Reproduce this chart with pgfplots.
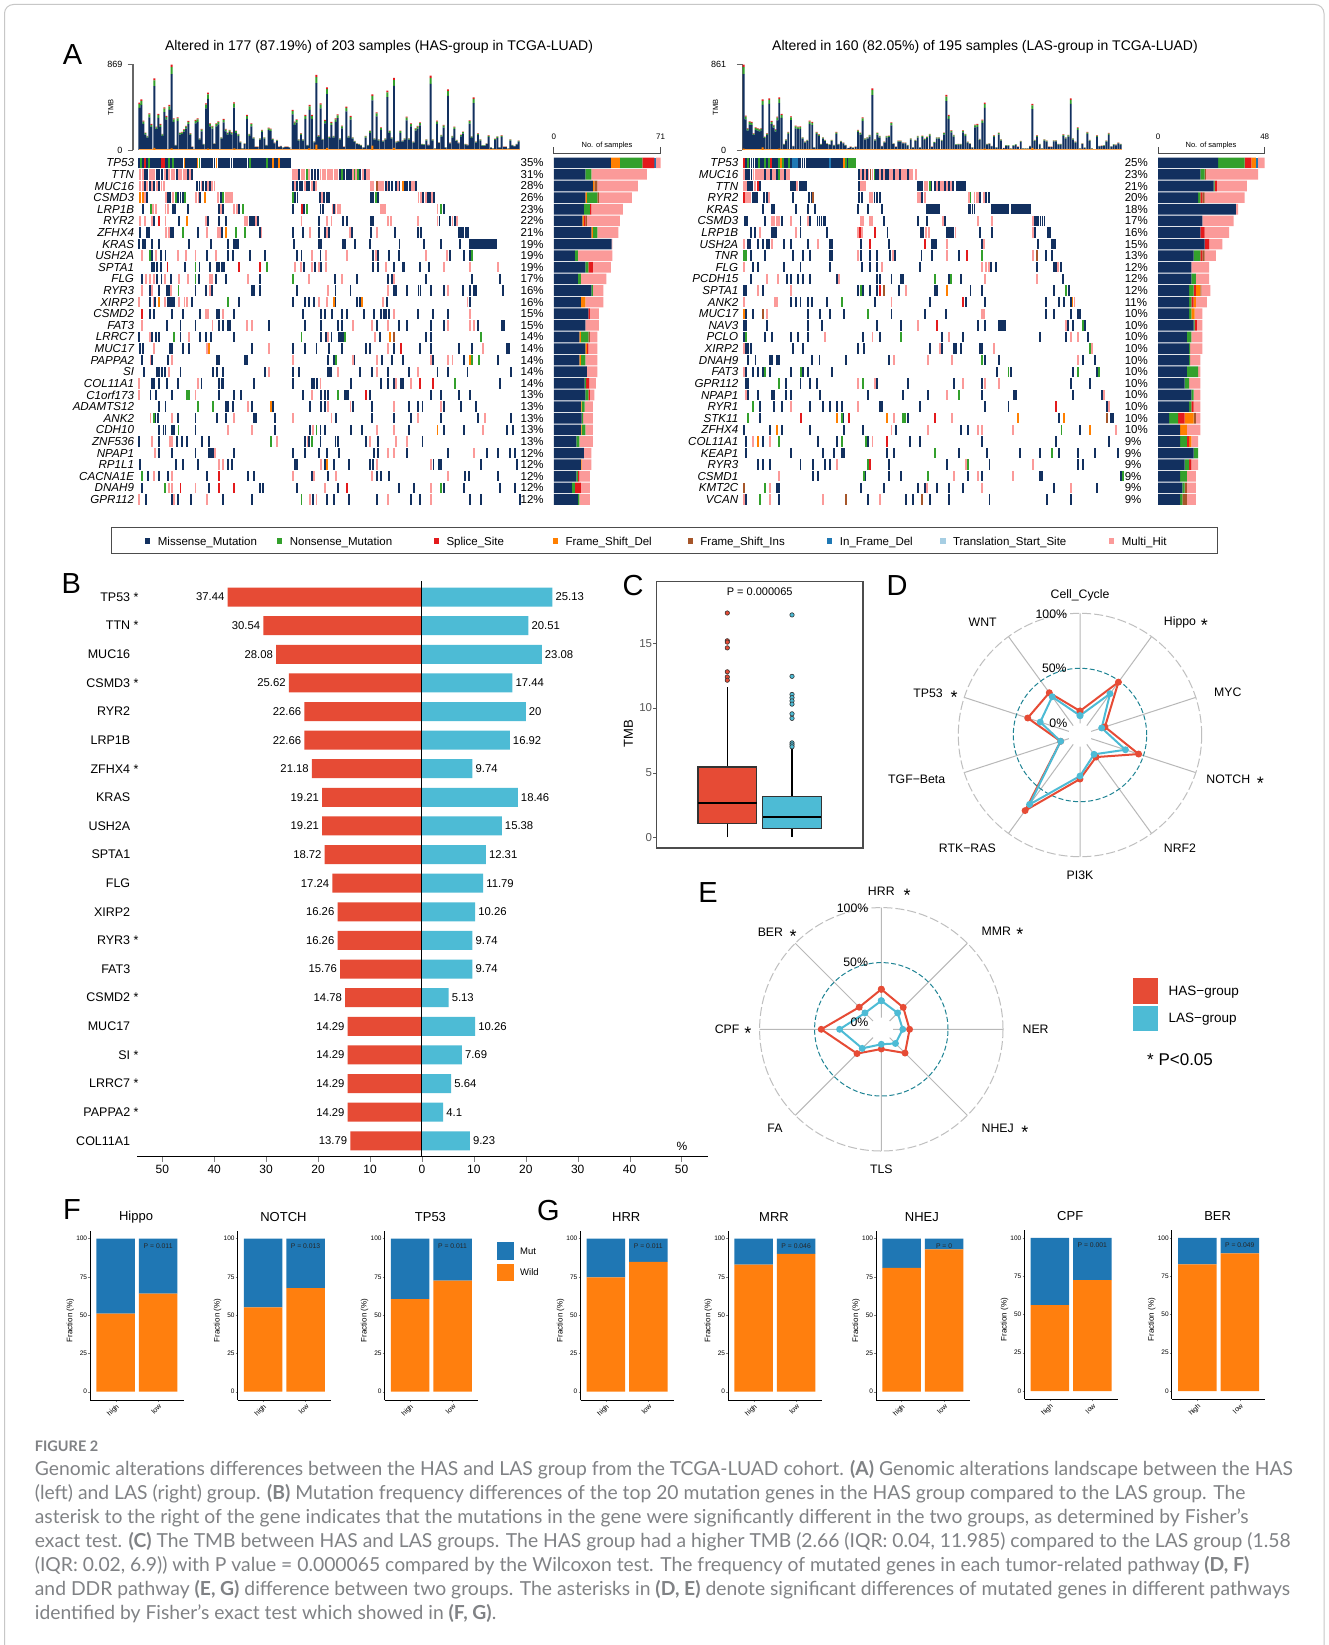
\documentclass[border=0pt]{standalone}
\usepackage{fontspec}
\usepackage{pgfplots}
\usepackage{pgfplotstable}
\pgfplotsset{compat=1.18}
\usepgfplotslibrary{polar,statistics}
\setmainfont{Liberation Sans}
\newfontfamily\capfont{Lato}
\newcommand{\fs}[1]{\fontsize{#1}{#1}\selectfont}
\definecolor{nv}{HTML}{12305F}
\definecolor{gn}{HTML}{33A02C}
\definecolor{rd}{HTML}{E31A1C}
\definecolor{og}{HTML}{FF7F00}
\definecolor{br}{HTML}{A6562A}
\definecolor{bl}{HTML}{1F78B4}
\definecolor{lb}{HTML}{A6CEE3}
\definecolor{pk}{HTML}{FB9A99}
\definecolor{has}{HTML}{E64B35}
\definecolor{las}{HTML}{4DBBD5}
\definecolor{mut}{HTML}{1F77B4}
\definecolor{wild}{HTML}{FF7F0E}
\definecolor{tl}{HTML}{1F8494}
\definecolor{cap}{HTML}{808285}
\pgfplotsset{/pgf/number format/assume math mode=true}
\pgfdeclareplotmark{cella}{\pgfpathrectangle{\pgfpoint{-0.95pt}{-5.2pt}}{\pgfpoint{1.9pt}{10.4pt}}\pgfusepathqfill}
\pgfplotsset{onco/.style={width=381.9pt,height=348.3pt,scale only axis,ymin=-0.5,ymax=29.5,y dir=reverse,
  axis x line=none,axis y line=left,y axis line style={draw=none},ytick={0,...,29},ytick style={draw=none},clip=false,
  major tick length=0pt,yticklabel style={font=\fs{11.6}\itshape,inner sep=0pt,xshift=-4.4pt}},
 ocell/.style={only marks,mark=cella,color=#1},
 sideb/.style={scale only axis,height=348.3pt,ymin=-0.5,ymax=29.5,y dir=reverse,xbar stacked,bar width=10.6pt,
  axis x line=none,axis y line=left,y axis line style={draw=none},ytick={0,...,29},ytick style={draw=none},xmin=0,clip=false,
  major tick length=0pt,yticklabel style={font=\fs{11.5},inner sep=0pt,text width=24pt,align=left,anchor=east,xshift=-9pt}},
 tmb/.style={scale only axis,height=85.7pt,ymin=0,ymax=257,ybar stacked,axis x line=none,axis y line=left,
  y axis line style={-,draw=black!60,line width=1.2pt},ytick={0,257},tick align=outside,major tick length=5.5pt,
  tick style={draw=black!60,line width=0.8pt},yticklabel style={font=\fs{9},inner sep=0pt},
  ylabel style={font=\fs{7.5}},clip=false},
 sg/.style={draw=none,bar width=1.85pt},
 polar/.style={scale only axis,width=243.4pt,height=243.4pt,anchor=center,ymin=0,ymax=110.6,ytick=\empty,xticklabels={},
  xmajorgrids,major x grid style={black!28,line width=1pt},
  x axis line style={draw=none},y axis line style={draw=none},tick style={draw=none},clip=false,
  major tick length=0pt},
 rline/.style={color=#1,line width=2pt,mark=*,mark size=2.4pt,mark options={fill=#1,draw=#1}}}

\pgfplotstableread{
x h
28 142
34 152
40 88
46 52
52 42
58 110
64 78
73 215
79 70
85 108
91 78
97 48
103 128
109 102
118 135
125 256
131 95
137 15
143 98
150 52
156 54
162 62
168 72
175 87
181 50
187 10
197 90
203 95
209 35
215 63
221 18
228 140
234 172
240 80
247 72
253 20
259 80
265 86
274 38
281 93
287 63
293 52
299 60
305 53
312 143
318 58
325 48
331 25
337 5
344 20
351 105
358 48
364 80
371 38
377 10
383 10
390 35
396 60
403 38
409 15
416 67
422 64
428 34
434 22
441 30
447 10
453 12
460 8
466 10
473 10
478 8
488 120
494 85
500 92
506 32
513 50
519 32
526 105
532 15
539 135
546 105
553 26
559 225
566 44
572 140
578 33
585 90
591 188
598 40
604 84
611 42
617 95
623 107
630 35
636 73
642 10
649 130
656 42
662 102
668 38
674 27
681 20
687 18
693 15
700 8
707 42
714 15
720 58
727 167
733 35
740 113
746 32
753 68
759 28
766 35
772 178
779 58
785 38
792 216
799 25
805 27
811 58
818 28
824 35
830 100
837 35
843 80
850 25
857 65
863 72
870 83
876 18
882 17
889 32
895 16
902 223
908 32
915 5
921 88
927 23
934 45
941 75
947 8
954 182
960 22
967 42
973 70
980 30
986 22
993 46
999 55
1006 18
1012 16
1019 89
1025 41
1031 158
1038 25
1044 50
1051 32
1057 14
1064 14
1070 20
1076 44
1083 8
1089 5
1095 34
1102 41
1108 8
1115 44
1122 10
1128 10
1135 5
1141 32
1147 15
1154 12
1160 18
1166 28
}\tmbhas
\pgfplotstableread{
x h
26 256
32 103
38 65
44 86
50 84
56 50
62 68
68 65
74 63
79 65
83 152
89 40
96 50
103 155
110 87
116 75
122 62
127 100
133 158
140 108
147 18
153 32
160 54
168 101
175 12
182 73
189 70
196 71
203 38
210 25
217 30
224 88
232 84
238 8
245 54
252 47
258 18
264 38
270 30
276 20
283 17
290 30
297 15
304 54
311 18
318 27
325 22
332 15
340 6
347 10
354 7
362 10
369 60
376 52
383 98
390 35
397 38
404 45
412 185
420 32
427 52
434 42
441 12
448 25
455 42
462 43
469 83
476 20
483 10
490 28
497 28
504 22
511 22
518 15
527 35
534 8
541 30
548 42
555 8
562 43
569 34
576 40
584 48
591 10
598 24
605 38
612 38
620 30
627 52
634 165
641 105
649 59
656 45
663 17
670 18
677 18
684 59
691 48
698 25
705 20
712 8
720 76
727 78
734 33
742 91
749 142
756 18
763 20
770 12
777 44
784 8
791 52
798 32
806 6
813 14
820 14
827 5
835 14
842 17
849 10
857 27
864 5
871 5
878 5
885 12
892 138
899 30
906 44
914 18
921 5
928 32
935 28
942 10
949 10
956 29
963 29
970 18
977 18
985 47
992 38
1000 45
1007 155
1014 35
1021 25
1028 68
1035 5
1042 20
1049 7
1057 54
1064 30
1071 5
1078 2
1086 44
1093 12
1100 13
1107 14
1114 28
1121 51
1129 11
1136 17
1143 16
1150 22
1157 18
}\tmblas
\pgfplotstableread{
r mis fsd non spl fsi ifd mul
0 38 6 15 8 0 1 3
1 21 0 4 0 0 0 37
2 26 1 0 0 2 0 27
3 21 1 7 0 1 0 22
4 20 0 4 1 0 0 21
5 19 1 0 1 1 0 22
6 25 1 3 0 0 0 14
7 38.5 0 0 0 0 0 .5
8 14 0 2 0 0 0 23
9 21 0 2 3 0 0 12
10 16 0 2 0 0 0 17
11 25 0 1 0 0 0 7
12 18 3 0 0 0 0 12
13 23 0 0 1 0 0 6
14 21 0 0 0 0 0 9
15 17 1 5 0 1 0 5
16 21 1 0 1 0 0 6
17 17 1 3 0 0 0 8
18 22 0 0 0 0 0 7
19 20.5 0 1 2 0 0 4.5
20 21 0 2 1 0 0 3
21 18 .5 2 0 0 0 5.5
22 18.5 0 1 0 0 0 6.5
23 18 .5 2.5 0 0 0 5
24 15 0 2 0 0 0 9
25 20 0 0 0 0 0 5
26 18 .5 0 0 0 0 6.5
27 15 0 1 1 0 0 7
28 12 0 2 4 0 0 6
29 16 0 1 0 0 0 7
}\barhas
\pgfplotstableread{
r mis non spl fsd fsi ifd mul
0 27 12 3 2 0 1 3
1 19 2 0 0 .5 0 23.5
2 25 .5 1 0 0 0 13.5
3 18 1 1 0 1 0 18
4 35 0 0 0 0 0 1
5 20 0 0 0 0 0 14
6 19 0 2 0 0 0 11
7 21 0 2 0 0 0 6
8 16 3 1 0 1 0 5
9 15 0 0 0 0 0 8
10 15 2 0 0 0 0 6
11 14 2 1 2 .5 0 4
12 14 1 1 1 0 0 5
13 14 1 0 1.5 0 0 3.5
14 16 .5 1 0 0 0 2.5
15 13 2 0 0 0 0 5
16 14 .5 0 0 0 0 5.5
17 14 .5 0 0 0 0 4.5
18 13 5 0 0 0 0 1
19 12 2 0 0 0 0 5
20 15 1 0 0 0 0 3
21 14 1 1 0 0 0 3
22 5 4 3 4 1 0 2
23 10 0 0 3 0 0 6
24 10 3 1 1 0 0 3
25 16 2 0 0 0 0 0
26 12 2 1 0 0 0 3
27 10 3 0 0 0 0 4
28 11 1 0 0 1 0 4
29 10 1 0 0 2 0 4
}\barlas

\newcommand{\fgpanel}[8]{%
\begin{axis}[at={(#1pt,-#2pt)},anchor=north west,width=93.3pt,height=169.3pt,scale only axis,ybar stacked,bar width=38.5pt,
 xmin=0.402,xmax=2.6,ymin=-5.4,ymax=105.1,axis x line=bottom,axis y line=left,axis line style={-,line width=1pt},
 xtick={1,2},xticklabels={high,low},ytick={0,25,50,75,100},tick align=outside,major tick length=2pt,
 xticklabel style={font=\fs{7},rotate=45,anchor=north east,inner sep=1pt},yticklabel style={font=\fs{6.5},inner sep=1pt},
 ylabel={Fraction (\%)},y label style={font=\fs{8},at={(axis description cs:-0.215,0.47)},anchor=center},
 title={#3},title style={font=\fs{13},at={(axis description cs:0.49,1.045)},anchor=center},
 after end axis/.code={\node[font=\fs{6.8},text=black!85,inner sep=0pt] at (axis cs:2,95) {P = #4};}]
\addplot[fill=wild,draw=none] coordinates {(1,#5) (2,#6)};
\addplot[fill=mut,draw=none] coordinates {(1,#7) (2,#8)};
\end{axis}}
\newcommand{\st}[2]{\node[font=\fs{18},inner sep=0pt] at (#1,#2+3.5) {*};}

\begin{document}
\begin{tikzpicture}[x=1pt,y=-1pt]
\useasboundingbox (0,0) rectangle (1328,1645);
\fill[white] (0,0) rectangle (1328,1645);
\draw[black!22,line width=1pt,rounded corners=9pt] (4.5,1645)--(4.5,4.5)--(1324,4.5)--(1324,1645);
% ---------- letters
\foreach \t/\a/\b in {A/72.5/55,B/71.3/584,C/633/586,D/897/586,E/708/893,F/72/1210,G/548.4/1211}
  \node[font=\fs{29},inner sep=0pt] at (\a,\b) {\t};
% ---------- panel A titles
\node[font=\fs{14},inner sep=0pt] at (379,46.5) {Altered in 177 (87.19\%) of 203 samples (HAS-group in TCGA-LUAD)};
\node[font=\fs{14},inner sep=0pt] at (985,46.5) {Altered in 160 (82.05\%) of 195 samples (LAS-group in TCGA-LUAD)};
% ---------- TMB HAS
\begin{axis}[tmb,at={(133pt,-64.3pt)},anchor=north west,width=387.5pt,xmin=9,xmax=1171.5,yticklabels={0,869},ylabel={TMB},
 yticklabel style={xshift=-5pt},y label style={at={(axis description cs:-0.057,0.5)},anchor=center}]
\addplot[fill=nv,sg] table[x=x,y expr=\thisrow{h}*0.89]{\tmbhas};
\addplot[fill=gn,sg] table[x=x,y expr=\thisrow{h}*0.08]{\tmbhas};
\addplot[fill=rd,sg] table[x=x,y expr=\thisrow{h}*0.03]{\tmbhas};
\end{axis}
\begin{axis}[at={(133pt,-64.3pt)},anchor=north west,scale only axis,width=387.5pt,height=85.7pt,xmin=9,xmax=1171.5,ymin=0,ymax=257,hide axis,clip=false]
\addplot[og!70,line width=0.5pt] coordinates {(25.8,0.8) (1171,0.8)};
\addplot[ybar,fill=og,draw=none,bar width=1.85pt,bar shift=0pt] coordinates {(73,6) (125,5) (234,4) (313,5) (537,5) (559,16) (591,6) (727,13) (792,6)};
\end{axis}
% ---------- TMB LAS
\begin{axis}[tmb,at={(742.3pt,-64.3pt)},anchor=north west,width=382.4pt,xmin=22,xmax=1169,yticklabels={0,861},ylabel={TMB},
 yticklabel style={xshift=-10.5pt},y label style={at={(axis description cs:-0.07,0.5)},anchor=center}]
\addplot[fill=nv,sg] table[x=x,y expr=\thisrow{h}*0.89]{\tmblas};
\addplot[fill=gn,sg] table[x=x,y expr=\thisrow{h}*0.08]{\tmblas};
\addplot[fill=rd,sg] table[x=x,y expr=\thisrow{h}*0.03]{\tmblas};
\end{axis}
\begin{axis}[at={(742.3pt,-64.3pt)},anchor=north west,scale only axis,width=382.4pt,height=85.7pt,xmin=22,xmax=1169,ymin=0,ymax=257,hide axis,clip=false]
\addplot[og!70,line width=0.5pt] coordinates {(24,0.8) (1160,0.8)};
\addplot[ybar,fill=og,draw=none,bar width=1.85pt,bar shift=0pt] coordinates {(26,4) (83,8) (133,4) (749,4) (892,6)};
\end{axis}
% ---------- oncoplot HAS
\begin{axis}[onco,at={(138.6pt,-157pt)},anchor=north west,xmin=224,xmax=1190,
 yticklabels={TP53,TTN,MUC16,CSMD3,LRP1B,RYR2,ZFHX4,KRAS,USH2A,SPTA1,FLG,RYR3,XIRP2,CSMD2,FAT3,LRRC7,MUC17,PAPPA2,SI,COL11A1,C1orf173,ADAMTS12,ANK2,CDH10,ZNF536,NPAP1,RP1L1,CACNA1E,DNAH9,GPR112}]
\addplot[ocell=pk] coordinates {
(228,1)(234,1)(252,1)(258,1)(264,1)(290,1)(302,1)(308,1)(314,1)(326,1)(332,1)(338,1)(344,1)(355,1)(615,1)(620,1)(625,1)(637,1)(643,1)(656,1)(684,1)(690,1)(696,1)(702,1)(708,1)(714,1)(720,1)(726,1)(767,1)(773,1)(791,1)(802,1)(807,1)
(228,2)(234,2)(246,2)(259,2)(270,2)(282,2)(288,2)(383,2)(399,2)(410,2)(416,2)(620,2)(644,2)(662,2)(673,2)(812,2)(818,2)(832,2)(836,2)(842,2)(854,2)(880,2)(915,2)(920,2)
(240,3)(294,3)(312,3)(370,3)(376,3)(425,3)(444,3)(450,3)(455,3)(461,3)(688,3)(932,3)(938,3)(950,3)(967,3)
(261,4)(267,4)(292,4)(298,4)(432,4)(465,4)(472,4)(716,4)(722,4)(728,4)(734,4)(836,4)(842,4)(848,4)(980,4)
(228,5)(240,5)(258,5)(292,5)(395,5)(493,5)(499,5)(522,5)(636,5)(700,5)(712,5)(855,5)(862,5)(930,5)(980,5)(1018,5)(1030,5)
(294,6)(300,6)(396,6)(424,6)(430,6)(534,6)(658,6)(700,6)(758,6)(826,6)
(232,8)(268,8)(324,8)(344,8)(368,8)(420,8)(662,8)(698,8)(750,8)(824,8)(952,8)(1005,8)
(620,9)(634,9)(662,9)(680,9)(698,9)(850,9)(996,9)(1062,9)(1132,9)
(242,10)(252,10)(262,10)(290,10)(326,10)(350,10)(404,10)(410,10)(500,10)(656,10)(738,10)(870,10)
(232,11)(258,11)(307,11)(404,11)(702,11)(854,11)(1006,11)
(225,12)(262,12)(290,12)(326,12)(340,12)(346,12)(680,12)(700,12)(842,12)(1056,12)
(394,13)(400,13)(438,13)(870,13)(1062,13)
(232,14)(411,14)(499,14)(510,14)(767,14)(815,14)(854,14)(1006,14)(1062,14)(1072,14)
(252,15)(351,15)(704,15)(822,15)
(264,16)(396,16)(553,16)(854,16)(1095,16)
(254,17)(308,17)(614,17)(766,17)(826,17)(964,17)(1006,17)(1018,17)
(302,18)(553,18)(728,18)(826,18)(930,18)
(226,19)(374,19)(684,19)(876,19)(914,19)
(226,20)(368,20)(662,20)
(500,21)(702,21)(760,21)(870,21)(990,21)
(254,22)(308,22)(466,22)(614,22)(712,22)(930,22)(1100,22)
(450,23)(510,23)(664,23)(826,23)(870,23)(1096,23)
(258,24)(304,24)(309,24)(575,24)(652,24)(810,24)(874,24)(904,24)
(265,25)(418,25)(854,25)(870,25)(1072,25)
(428,26)(438,26)(686,26)(826,26)(964,26)
(264,27)(308,27)(614,27)(668,27)(724,27)(815,27)(1006,27)
(302,28)(308,28)(368,28)(696,28)(964,28)
(226,29)(313,29)(396,29)(658,29)(674,29)(854,29)(964,29)};
\addplot[ocell=nv] coordinates {
(226,0)(236,0)(245,0)(255,0)(259,0)(264,0)(269,0)(274,0)(278,0)(293,0)(297,0)(307,0)(316,0)(321,0)(326,0)(331,0)(335,0)(345,0)(350,0)(354,0)(359,0)(364,0)(369,0)(383,0)(388,0)(392,0)(397,0)(402,0)(407,0)(411,0)(416,0)(426,0)(430,0)(435,0)(440,0)(445,0)(449,0)(454,0)(459,0)(464,0)(468,0)(473,0)(478,0)(483,0)(487,0)(492,0)(497,0)(502,0)(511,0)(516,0)(521,0)(525,0)(530,0)(535,0)(540,0)(544,0)(554,0)(559,0)(568,0)(573,0)(582,0)(587,0)(592,0)(597,0)(601,0)(606,0)
(240,1)(246,1)(270,1)(275,1)(283,1)(296,1)(320,1)(350,1)(360,1)(630,1)(662,1)(670,1)(677,1)(733,1)(744,1)(750,1)(756,1)(762,1)(785,1)(796,1)
(240,2)(253,2)(264,2)(276,2)(372,2)(378,2)(388,2)(394,2)(404,2)(615,2)(625,2)(632,2)(638,2)(650,2)(656,2)(668,2)(850,2)(858,2)(866,2)(874,2)(884,2)(898,2)(904,2)(910,2)(925,2)
(246,3)(298,3)(304,3)(324,3)(330,3)(336,3)(380,3)(432,3)(620,3)(626,3)(682,3)(694,3)(700,3)(706,3)(812,3)(818,3)(830,3)(944,3)(955,3)(962,3)(972,3)
(236,4)(310,4)(316,4)(350,4)(427,4)(438,4)(478,4)(614,4)(643,4)(684,4)(690,4)(718,4)(997,4)
(264,5)(327,5)(400,5)(428,5)(445,5)(505,5)(511,5)(516,5)(527,5)(680,5)(742,5)(750,5)(812,5)(818,5)(985,5)(1012,5)(1025,5)
(228,6)(246,6)(250,6)(306,6)(312,6)(374,6)(436,6)(530,6)(614,6)(640,6)(680,6)(696,6)(706,6)(764,6)(812,6)(873,6)(930,6)(938,6)(1035,6)(1040,6)(1045,6)(1052,6)(1057,6)
(226,7)(236,7)(240,7)(258,7)(275,7)(352,7)(406,7)(450,7)(465,7)(470,7)(476,7)(618,7)(680,7)(685,7)(740,7)(745,7)(772,7)(810,7)(884,7)(946,7)(990,7)(1036,7)(1062,7)(1067,7)(1072,7)(1077,7)(1082,7)(1087,7)(1092,7)(1097,7)(1102,7)(1107,7)(1112,7)(1117,7)(1122,7)(1128,7)
(258,8)(280,8)(292,8)(398,8)(450,8)(462,8)(506,8)(543,8)(624,8)(636,8)(684,8)(818,8)(830,8)(858,8)(882,8)(1011,8)(1047,8)(1062,8)
(258,9)(264,9)(270,9)(280,9)(341,9)(378,9)(404,9)(422,9)(428,9)(434,9)(440,9)(642,9)(670,9)(686,9)(816,9)(830,9)(870,9)(892,9)(896,9)(936,9)(958,9)
(232,10)(270,10)(282,10)(305,10)(376,10)(420,10)(445,10)(532,10)(720,10)(777,10)(855,10)(865,10)(952,10)(1067,10)(1139,10)
(252,11)(275,11)(296,11)(302,11)(368,11)(395,11)(410,11)(510,11)(516,11)(532,11)(624,11)(722,11)(760,11)(870,11)(876,11)(903,11)(932,11)(937,11)(964,11)(996,11)(1045,11)(1063,11)(1072,11)(1077,11)(1145,11)
(252,12)(266,12)(298,12)(303,12)(309,12)(314,12)(358,12)(477,12)(614,12)(645,12)(656,12)(668,12)(722,12)(777,12)(783,12)(852,12)(1062,12)
(252,13)(264,13)(308,13)(336,13)(379,13)(422,13)(428,13)(465,13)(640,13)(685,13)(696,13)(714,13)(738,13)(750,13)(795,13)(820,13)(838,13)(844,13)(850,13)(858,13)(930,13)(968,13)(1007,13)
(296,14)(330,14)(368,14)(428,14)(438,14)(450,14)(456,14)(553,14)(646,14)(685,14)(728,14)(738,14)(828,14)(882,14)(903,14)(963,14)(996,14)(1082,14)(1143,14)(1148,14)
(226,15)(258,15)(268,15)(275,15)(330,15)(380,15)(395,15)(406,15)(466,15)(686,15)(698,15)(712,15)(730,15)(735,15)(740,15)(835,15)(952,15)(963,15)
(228,16)(234,16)(303,16)(308,16)(336,16)(352,16)(510,16)(614,16)(646,16)(674,16)(706,16)(738,16)(800,16)(810,16)(870,16)(935,16)(964,16)(1034,16)(1067,16)(1155,16)(1160,16)
(232,17)(258,17)(298,17)(422,17)(428,17)(494,17)(499,17)(702,17)(718,17)(770,17)(840,17)(864,17)(892,17)(968,17)(1046,17)(1133,17)
(237,18)(270,18)(276,18)(284,18)(290,18)(330,18)(412,18)(422,18)(438,18)(543,18)(614,18)(630,18)(702,18)(708,18)(712,18)(784,18)(815,18)(854,18)(908,18)(980,18)(1007,18)(1056,18)(1165,18)
(258,19)(264,19)(275,19)(296,19)(324,19)(383,19)(428,19)(434,19)(438,19)(516,19)(614,19)(662,19)(668,19)(676,19)(762,19)(838,19)(854,19)(870,19)(888,19)(892,19)(1138,19)
(254,20)(269,20)(308,20)(428,20)(466,20)(482,20)(640,20)(686,20)(696,20)(702,20)(745,20)(750,20)(755,20)(810,20)(964,20)(990,20)(1034,20)(1062,20)
(275,21)(292,21)(446,21)(450,21)(462,21)(510,21)(564,21)(658,21)(686,21)(696,21)(766,21)(815,21)(908,21)(930,21)(942,21)(996,21)(1040,21)(1078,21)
(266,22)(272,22)(324,22)(368,22)(422,22)(446,22)(516,22)(521,22)(570,22)(724,22)(815,22)(870,22)(914,22)(990,22)(1082,22)(1165,22)
(275,23)(287,23)(292,23)(308,23)(314,23)(368,23)(570,23)(658,23)(684,23)(696,23)(762,23)(788,23)(908,23)(996,23)(1046,23)(1155,23)(1170,23)
(226,24)(275,24)(320,24)(334,24)(346,24)(384,24)(402,24)(646,24)(656,24)(684,24)(722,24)(728,24)(800,24)(830,24)(942,24)
(275,25)(308,25)(368,25)(402,25)(408,25)(412,25)(466,25)(614,25)(646,25)(680,25)(700,25)(730,25)(820,25)(830,25)(903,25)(1007,25)(1106,25)(1133,25)(1164,25)(1175,25)
(228,26)(318,26)(336,26)(374,26)(450,26)(460,26)(620,26)(625,26)(696,26)(718,26)(756,26)(810,26)(816,26)(970,26)(984,26)(990,26)(1090,26)(1182,26)
(248,27)(276,27)(298,27)(396,27)(500,27)(515,27)(662,27)(702,27)(826,27)(838,27)(858,27)(1050,27)(1060,27)(1133,27)
(232,28)(402,28)(532,28)(538,28)(624,28)(728,28)(882,28)(920,28)(996,28)(1046,28)(1139,28)(1176,28)
(242,29)(308,29)(324,29)(357,29)(438,29)(510,29)(664,29)(700,29)(718,29)(756,29)(826,29)(914,29)(936,29)(1062,29)(1090,29)(1188,29)};
\addplot[ocell=gn] coordinates {
(231,0)(250,0)(302,0)(312,0)(378,0)(506,0)(549,0)(651,1)(738,1)(770,1)(778,1)(318,3)(342,3)(438,3)(614,3)(824,3)(256,4)(487,4)(649,4)(990,4)(336,6)(470,6)(494,6)(252,8)(1067,8)(368,9)(548,9)(368,10)(614,10)(325,11)(450,12)(314,15)(636,15)(746,15)(1090,15)(723,17)(1067,17)(1084,17)(1024,19)(346,20)(351,20)(728,20)(374,21)(412,21)(262,22)(325,23)(674,23)(558,24)(662,24)(232,27)(291,28)(990,28)(636,29)};
\addplot[ocell=rd] coordinates {
(240,0)(283,0)(288,0)(637,4)(276,5)(478,9)(532,9)(297,9)(232,13)(887,16)(936,19)(968,19)(800,20)(428,27)(330,28)(428,28)(466,28)(750,28)};
\addplot[ocell=og] coordinates {
(340,0)(373,0)(421,0)(563,0)(578,0)(228,3)(234,3)(392,3)(347,5)(445,6)(275,12)(718,12)(789,12)(859,15)(401,16)(1062,17)(558,21)(980,23)(701,26)(892,2)};
\addplot[ocell=br] coordinates {(827,2)(870,15)};
\end{axis}
% ---------- oncoplot LAS
\begin{axis}[onco,at={(742.8pt,-157pt)},anchor=north west,xmin=184,xmax=1150,
 yticklabels={TP53,MUC16,TTN,RYR2,KRAS,CSMD3,LRP1B,USH2A,TNR,FLG,PCDH15,SPTA1,ANK2,MUC17,NAV3,PCLO,XIRP2,DNAH9,FAT3,GPR112,NPAP1,RYR1,STK11,ZFHX4,COL11A1,KEAP1,RYR3,CSMD1,KMT2C,VCAN}]
\addplot[ocell=pk] coordinates {
(186,1)(211,1)(216,1)(221,1)(226,1)(231,1)(236,1)(246,1)(251,1)(260,1)(265,1)(280,1)(285,1)(295,1)(300,1)(482,1)(492,1)(502,1)(512,1)(532,1)(542,1)(557,1)(562,1)(571,1)(576,1)(586,1)(591,1)(596,1)(606,1)(611,1)(621,1)
(186,2)(192,2)(215,2)(321,2)(482,2)(487,2)(492,2)(645,2)(650,2)(675,2)(685,2)(690,2)(700,2)(710,2)
(193,3)(198,3)(203,3)(250,3)(505,3)(510,3)(628,3)(633,3)(644,3)(755,3)(770,3)(775,3)(780,3)(795,3)
(258,5)(264,5)(270,5)(275,5)(306,5)(348,5)(482,5)(487,5)(505,5)(510,5)(690,5)(778,5)(815,5)(917,5)
(228,6)(318,6)(476,6)(485,6)(648,6)(655,6)(722,6)(917,6)
(186,7)(258,7)(374,7)(700,7)(795,7)
(476,8)(564,8)(700,8)(917,8)
(186,9)(536,9)(790,9)(800,9)(806,9)(982,9)
(246,10)(272,10)(428,10)(796,10)(928,10)
(222,11)(306,11)(596,11)
(186,12)(266,12)(271,12)(560,12)(1023,12)
(246,13)(790,13)(795,13)
(628,14)(1002,14)
(392,15)(512,15)(705,15)(1013,15)(1032,15)
(187,16)(682,16)(820,16)(1068,16)
(566,17)(652,17)(712,17)(1032,17)
(186,18)(856,18)
(476,19)(518,19)(742,19)(796,19)(832,19)
(192,20)(700,20)(1098,20)
(306,21)(476,21)(1110,21)
(566,22)(712,22)
(560,23)(652,23)(778,23)(790,23)(868,23)(1128,23)
(210,24)(252,24)(512,24)
(422,26)(748,26)(917,26)
(276,27)(718,27)(778,27)(868,27)
(252,28)(650,28)(790,28)(1013,28)
(186,29)(252,29)(386,29)(530,29)};
\addplot[ocell=nv] coordinates {
(191,0)(201,0)(206,0)(211,0)(216,0)(221,0)(231,0)(236,0)(246,0)(260,0)(265,0)(270,0)(290,0)(295,0)(305,0)(325,0)(330,0)(335,0)(340,0)(345,0)(349,0)(354,0)(359,0)(364,0)(369,0)(374,0)(379,0)(384,0)(389,0)(394,0)(399,0)(409,0)(414,0)(419,0)(424,0)(429,0)(434,0)(448,0)
(191,1)(196,1)(201,1)(206,1)(241,1)(255,1)(270,1)(290,1)(478,1)(487,1)(497,1)(522,1)(527,1)(537,1)(547,1)(552,1)(566,1)(581,1)(601,1)
(198,2)(203,2)(208,2)(228,2)(306,2)(311,2)(316,2)(328,2)(333,2)(338,2)(343,2)(477,2)(628,2)(633,2)(638,2)(660,2)(670,2)(680,2)(695,2)(705,2)(715,2)(725,2)(730,2)(735,2)(740,2)(745,2)
(210,3)(215,3)(220,3)(238,3)(245,3)(312,3)(352,3)(358,3)(478,3)(485,3)(517,3)(524,3)(530,3)(638,3)(785,3)(800,3)(806,3)
(235,4)(258,4)(263,4)(318,4)(350,4)(367,4)(476,4)(500,4)(537,4)(650,4)(655,4)(660,4)(665,4)(670,4)(675,4)(680,4)(755,4)(760,4)(765,4)(770,4)(815,4)(820,4)(825,4)(830,4)(835,4)(840,4)(845,4)(850,4)(855,4)(865,4)(870,4)(875,4)(880,4)(885,4)(890,4)(895,4)(900,4)(905,4)(910,4)
(190,5)(195,5)(240,5)(282,5)(330,5)(355,5)(373,5)(378,5)(383,5)(388,5)(393,5)(542,5)(628,5)(650,5)(695,5)(922,5)(927,5)(932,5)(937,5)(942,5)(947,5)
(204,6)(214,6)(258,6)(263,6)(268,6)(330,6)(398,6)(550,6)(634,6)(640,6)(700,6)(705,6)(710,6)(715,6)(785,6)(815,6)(923,6)(955,6)(960,6)
(198,7)(203,7)(222,7)(234,7)(246,7)(251,7)(288,7)(306,7)(350,7)(404,7)(409,7)(482,7)(554,7)(662,7)(667,7)(672,7)(790,7)(930,7)(965,7)(970,7)(975,7)
(204,8)(240,8)(312,8)(336,8)(354,8)(404,8)(409,8)(482,8)(506,8)(524,8)(556,8)(570,8)(636,8)(662,8)(730,8)(952,8)(965,8)
(210,9)(222,9)(288,9)(330,9)(404,9)(486,9)(506,9)(524,9)(633,9)(812,9)(825,9)(928,9)(972,9)(977,9)(988,9)
(204,10)(295,10)(306,10)(324,10)(336,10)(354,10)(423,10)(524,10)(530,10)(560,10)(584,10)(590,10)(705,10)(735,10)(995,10)
(186,11)(191,11)(235,11)(476,11)(487,11)(506,11)(524,11)(578,11)(670,11)(675,11)(760,11)(790,11)(970,11)(1008,11)
(306,12)(318,12)(330,12)(348,12)(360,12)(398,12)(518,12)(657,12)(748,12)(796,12)(952,12)(983,12)(996,12)(1014,12)
(192,13)(210,13)(348,13)(380,13)(404,13)(440,13)(560,13)(644,13)(698,13)(952,13)(970,13)(1013,13)(1032,13)(1037,13)
(188,14)(192,14)(246,14)(348,14)(384,14)(524,14)(584,14)(778,14)(796,14)(833,14)(838,14)(843,14)(848,14)(1007,14)(1020,14)(1050,14)
(186,15)(240,15)(258,15)(306,15)(324,15)(350,15)(488,15)(530,15)(687,15)(742,15)(935,15)(1001,15)(1056,15)
(192,16)(198,16)(204,16)(312,16)(336,16)(476,16)(490,16)(657,16)(688,16)(718,16)(723,16)(735,16)(784,16)(790,16)
(198,17)(216,17)(252,17)(258,17)(270,17)(276,17)(360,17)(378,17)(446,17)(554,17)(796,17)(833,17)(1044,17)(1074,17)
(192,18)(210,18)(222,18)(234,18)(252,18)(306,18)(337,18)(348,18)(410,18)(826,18)(862,18)(1020,18)(1080,18)
(192,19)(197,19)(294,19)(330,19)(354,19)(372,19)(524,19)(602,19)(718,19)(790,19)(1014,19)(1062,19)
(198,20)(222,20)(258,20)(264,20)(294,20)(306,20)(380,20)(500,20)(590,20)(652,20)(790,20)(870,20)(875,20)(1020,20)(1092,20)
(228,21)(264,21)(282,21)(354,21)(386,21)(404,21)(422,21)(434,21)(530,21)(535,21)(632,21)(796,21)(856,21)(1105,21)
(228,22)(437,22)(602,22)(984,22)(1116,22)(1121,22)
(186,23)(252,23)(284,23)(354,23)(440,23)(488,23)(572,23)(735,23)(753,23)(1038,23)
(192,24)(234,24)(374,24)(422,24)(500,24)(608,24)(632,24)(790,24)(977,24)(1110,24)
(192,25)(306,25)(386,25)(415,25)(434,25)(439,25)(548,25)(566,25)(730,25)(802,25)(886,25)(935,25)(984,25)(1032,25)(1074,25)(1134,25)
(222,26)(234,26)(252,26)(330,26)(362,26)(392,26)(404,26)(554,26)(700,26)(808,26)(1032,26)(1044,26)
(362,27)(374,27)(494,27)(554,27)(584,27)(754,27)(790,27)(935,27)(940,27)(1140,27)
(270,28)(276,28)(482,28)(542,28)(626,28)(644,28)(675,28)(705,28)(742,28)(970,28)(1080,28)
(192,29)(276,29)(500,29)(596,29)(614,29)(657,29)(705,29)(808,29)(953,29)(1013,29)};
\addplot[ocell=gn] coordinates {
(196,0)(226,0)(241,0)(251,0)(275,0)(285,0)(300,0)(444,0)(453,0)(458,0)(463,0)(468,0)(275,1)(517,1)(657,2)(760,3)(187,8)(192,8)(790,8)(670,10)(710,10)(482,11)(1002,11)(434,12)(500,13)(1045,14)(191,15)(584,15)(1062,16)(790,17)(240,18)(332,18)(856,18)(1032,18)(1086,18)(276,19)(488,19)(730,20)(210,21)(198,22)(434,22)(590,22)(595,22)(990,23)(276,24)(434,24)(495,24)(670,25)(966,25)(500,26)(754,26)(490,27)(652,27)(1146,27)(240,28)(228,29)};
\addplot[ocell=rd] coordinates {
(186,0)(255,0)(188,3)(222,2)(480,6)(518,6)(506,7)(645,7)(752,8)(530,11)(742,12)(675,14)(977,21)(331,22)(452,22)(670,22)(548,24)(506,26)};
\addplot[ocell=og] coordinates {
(280,0)(439,0)(700,11)(1018,12)(187,13)(422,22)(548,22)(880,22)(996,22)(270,23)(1062,23)(222,24)};
\addplot[ocell=br] coordinates {(507,1)(362,3)(928,8)(542,11)(234,13)(1105,22)(186,28)(446,29)(638,29)};
\addplot[ocell=bl] coordinates {(310,0)(315,0)(320,0)(404,0)};
\end{axis}
% ---------- side bars HAS
\begin{axis}[sideb,at={(553.8pt,-157pt)},anchor=north west,width=106.7pt,xmax=71,
 yticklabels={35\%,31\%,28\%,26\%,23\%,22\%,21\%,19\%,19\%,19\%,17\%,16\%,16\%,15\%,15\%,14\%,14\%,14\%,14\%,14\%,13\%,13\%,13\%,13\%,13\%,12\%,12\%,12\%,12\%,12\%}]
\addplot[fill=nv,draw=none] table[x=mis,y=r]{\barhas};
\addplot[fill=og,draw=none] table[x=fsd,y=r]{\barhas};
\addplot[fill=gn,draw=none] table[x=non,y=r]{\barhas};
\addplot[fill=rd,draw=none] table[x=spl,y=r]{\barhas};
\addplot[fill=br,draw=none] table[x=fsi,y=r]{\barhas};
\addplot[fill=bl,draw=none] table[x=ifd,y=r]{\barhas};
\addplot[fill=pk,draw=none] table[x=mul,y=r]{\barhas};
\end{axis}
% ---------- side bars LAS
\begin{axis}[sideb,at={(1158pt,-157pt)},anchor=north west,width=106.7pt,xmax=48,
 yticklabels={25\%,23\%,21\%,20\%,18\%,17\%,16\%,15\%,13\%,12\%,12\%,12\%,11\%,10\%,10\%,10\%,10\%,10\%,10\%,10\%,10\%,10\%,10\%,10\%,9\%,9\%,9\%,9\%,9\%,9\%}]
\addplot[fill=nv,draw=none] table[x=mis,y=r]{\barlas};
\addplot[fill=gn,draw=none] table[x=non,y=r]{\barlas};
\addplot[fill=rd,draw=none] table[x=spl,y=r]{\barlas};
\addplot[fill=og,draw=none] table[x=fsd,y=r]{\barlas};
\addplot[fill=br,draw=none] table[x=fsi,y=r]{\barlas};
\addplot[fill=bl,draw=none] table[x=ifd,y=r]{\barlas};
\addplot[fill=pk,draw=none] table[x=mul,y=r]{\barlas};
\end{axis}
% side bar scales
\draw[black!70,line width=0.8pt] (553.8,147.3)--(553.8,153.3)--(660.5,153.3)--(660.5,147.3);
\node[font=\fs{8},inner sep=0pt] at (553.8,137) {0};
\node[font=\fs{8},inner sep=0pt] at (660.5,137) {71};
\node[font=\fs{7.5},inner sep=0pt] at (607,146) {No. of samples};
\draw[black!70,line width=0.8pt] (1158,147.3)--(1158,153.3)--(1264.7,153.3)--(1264.7,147.3);
\node[font=\fs{8},inner sep=0pt] at (1158,137) {0};
\node[font=\fs{8},inner sep=0pt] at (1264.7,137) {48};
\node[font=\fs{7.5},inner sep=0pt] at (1211,146) {No. of samples};
% ---------- legend A
\draw[black!70,line width=1.2pt] (111.3,527.7) rectangle (1217.3,553.3);
\foreach \m/\c/\t in {147.7/nv/Missense\_Mutation,279.7/gn/Nonsense\_Mutation,436.3/rd/Splice\_Site,555.3/og/Frame\_Shift\_Del,690.2/br/Frame\_Shift\_Ins,829.7/bl/In\_Frame\_Del,942.8/lb/Translation\_Start\_Site,1111.7/pk/Multi\_Hit}{
  \fill[\c] (\m-2.7,541-2.7) rectangle (\m+2.7,541+2.7);
  \node[font=\fs{11.5},anchor=base west,inner sep=0pt] at (\m+10,545) {\t};}
% ---------- panel B
\begin{axis}[at={(137.4pt,-581pt)},anchor=north west,width=570.6pt,height=575.5pt,scale only axis,xmin=-54.8,xmax=55.1,ymin=-0.56,ymax=19.55,y dir=reverse,
 xbar,bar width=19pt,bar shift=0pt,axis x line=bottom,axis y line=left,y axis line style={draw=none},ytick style={draw=none},
 x axis line style={-,line width=1pt},xtick={-50,-40,...,50},xticklabels={50,40,30,20,10,0,10,20,30,40,50},
 ticklabel style={font=\fs{12}},tick align=outside,major tick length=5pt,
 ytick={0,...,19},yticklabels={TP53\rlap{ *},TTN\rlap{ *},MUC16,CSMD3\rlap{ *},RYR2,LRP1B,ZFHX4\rlap{ *},KRAS,USH2A,SPTA1,FLG,XIRP2,RYR3\rlap{ *},FAT3,CSMD2\rlap{ *},MUC17,SI\rlap{ *},LRRC7\rlap{ *},PAPPA2\rlap{ *},COL11A1},
 yticklabel style={font=\fs{12.5},inner sep=0pt,xshift=-2pt},clip=false,
 point meta=explicit symbolic,nodes near coords,nodes near coords style={font=\fs{11.3},inner sep=3pt}]
\addplot[fill=has,draw=none,nodes near coords style={anchor=east}] coordinates {
(-37.44,0)[37.44](-30.54,1)[30.54](-28.08,2)[28.08](-25.62,3)[25.62](-22.66,4)[22.66](-22.66,5)[22.66](-21.18,6)[21.18](-19.21,7)[19.21](-19.21,8)[19.21](-18.72,9)[18.72](-17.24,10)[17.24](-16.26,11)[16.26](-16.26,12)[16.26](-15.76,13)[15.76](-14.78,14)[14.78](-14.29,15)[14.29](-14.29,16)[14.29](-14.29,17)[14.29](-14.29,18)[14.29](-13.79,19)[13.79]};
\addplot[fill=las,draw=none,nodes near coords style={anchor=west}] coordinates {
(25.13,0)[25.13](20.51,1)[20.51](23.08,2)[23.08](17.44,3)[17.44](20,4)[20](16.92,5)[16.92](9.74,6)[9.74](18.46,7)[18.46](15.38,8)[15.38](12.31,9)[12.31](11.79,10)[11.79](10.26,11)[10.26](9.74,12)[9.74](9.74,13)[9.74](5.13,14)[5.13](10.26,15)[10.26](7.69,16)[7.69](5.64,17)[5.64](4.1,18)[4.1](9.23,19)[9.23]};
\draw[black,line width=1pt] (axis cs:0,-0.56)--(axis cs:0,19.55);
\end{axis}
\node[font=\fs{12},inner sep=0pt] at (682,1146.5) {\%};
% ---------- panel C
\begin{axis}[at={(656.3pt,-581.7pt)},anchor=north west,width=206.7pt,height=266.3pt,scale only axis,xmin=-0.097,xmax=3.097,ymin=-0.83,ymax=19.77,
 axis line style={draw=black!70,line width=1.2pt},xtick=\empty,ytick={0,5,10,15},ytick pos=left,tick align=outside,major tick length=3pt,
 yticklabel style={font=\fs{11.5},text=black!65,inner sep=1pt},tick style={draw=black!65},
 ylabel={TMB},y label style={font=\fs{13},at={(axis description cs:-0.135,0.43)},anchor=center},
 boxplot/draw direction=y,boxplot/whisker extend=0,
 boxplot/every median/.style={line width=1.7pt,draw=black},
 boxplot/every whisker/.style={line width=1.2pt,draw=black},
 boxplot/every box/.style={line width=1.1pt,draw=black!80}]
\addplot[boxplot prepared={draw position=1,lower whisker=0,lower quartile=1.08,median=2.66,upper quartile=5.44,upper whisker=11.6,box extend=0.906},
 fill=has,draw=black!80,mark=*,mark size=2.2pt,mark options={fill=has,draw=black!80,line width=0.6pt}] coordinates {(0,17.35)(0,15.2)(0,15.1)(0,14.65)(0,12.8)(0,12.4)(0,12.15)};
\addplot[boxplot prepared={draw position=2,lower whisker=0,lower quartile=0.7,median=1.58,upper quartile=3.14,upper whisker=7.0,box extend=0.906},
 fill=las,draw=black!80,mark=*,mark size=2.2pt,mark options={fill=las,draw=black!80,line width=0.6pt}] coordinates {(0,17.2)(0,12.45)(0,11.05)(0,10.8)(0,10.55)(0,10.3)(0,9.55)(0,9.2)(0,7.3)(0,7.15)(0,7.0)};
\node[font=\fs{11},inner sep=0pt] at (axis cs:1.5,19.0) {P = 0.000065};
\end{axis}
% ---------- panel D
\begin{polaraxis}[polar,at={(1080pt,-735pt)},xtick={18,54,90,126,162,198,234,270,306,342}]
\fill[white] (axis cs:0,0) circle[radius=11.7pt];
\draw[black!25,line width=1pt,dash pattern=on 9pt off 3pt] (axis cs:0,0) circle[radius=121.7pt];
\draw[tl,line width=1pt,dash pattern=on 5pt off 2.5pt] (axis cs:0,0) circle[radius=66.7pt];
\addplot[rline=has] coordinates {(90,21.8)(54,59.4)(18,23.8)(342,56)(306,24.8)(270,40)(234,84.9)(198,18.5)(162,50)(126,47.5)(90,21.8)};
\addplot[rline=las] coordinates {(90,17.6)(54,46.4)(18,20.7)(342,43.4)(306,21.7)(270,37.3)(234,78)(198,18.5)(162,38)(126,43)(90,17.6)};
\end{polaraxis}
\foreach \t/\a/\b in {Cell\_Cycle/1080/595.7,Hippo/1180/622.3,MYC/1227.7/692,NOTCH/1228.3/779.7,NRF2/1180/848.3,PI3K/1080/875,RTK−RAS/967.3/848.3,TGF−Beta/916.7/779,TP53/928/693.7,WNT/982.7/622.3,100\%/1051.3/614,50\%/1054.3/668.7,0\%/1058.3/723.3}
  \node[font=\fs{12.3},inner sep=0pt] at (\a,\b) {\t};
\st{1204.3}{622.3}\st{1260.3}{779.7}\st{954}{693.7}
% ---------- panel E
\begin{polaraxis}[polar,at={(881.3pt,-1029.3pt)},xtick={0,45,90,135,180,225,270,315}]
\fill[white] (axis cs:0,0) circle[radius=11.7pt];
\draw[black!25,line width=1pt,dash pattern=on 9pt off 3pt] (axis cs:0,0) circle[radius=121.7pt];
\draw[tl,line width=1pt,dash pattern=on 5pt off 2.5pt] (axis cs:0,0) circle[radius=66.7pt];
\addplot[rline=has] coordinates {(90,36.4)(45,28.2)(0,25.7)(315,30.5)(270,17.9)(225,31.2)(180,54.6)(135,28.4)(90,36.4)};
\addplot[rline=las] coordinates {(90,26)(45,21)(0,19.5)(315,18.2)(270,13.6)(225,24.5)(180,37.9)(135,21)(90,26)};
\end{polaraxis}
\foreach \t/\a/\b in {HRR/881.3/891.7,MMR/996.2/931,NER/1035.6/1029.7,NHEJ/997.7/1128.7,TLS/881.3/1169.3,FA/775/1128.7,CPF/727.1/1029.7,BER/770.4/932.3,100\%/852.6/908.3,50\%/855.7/962.7,0\%/859.5/1022.3}
  \node[font=\fs{12.3},inner sep=0pt] at (\a,\b) {\t};
\st{907}{891.7}\st{1019.9}{931}\st{1024.9}{1128.7}\st{747.8}{1029.7}\st{793}{932.3}
% legend E
\fill[has] (1133,978.3) rectangle (1158.4,1004);
\fill[las] (1133,1005.7) rectangle (1158.4,1031);
\node[font=\fs{13.5},anchor=west,inner sep=0pt] at (1168.4,991.7) {HAS−group};
\node[font=\fs{13.5},anchor=west,inner sep=0pt] at (1168.4,1019) {LAS−group};
\node[font=\fs{17},anchor=west,inner sep=0pt] at (1147,1060) {* P<0.05};
% ---------- panels F, G
\fgpanel{90.3}{1230.7}{Hippo}{0.011}{51}{64}{49}{36}
\fgpanel{237.7}{1230.7}{NOTCH}{0.013}{55}{67.6}{45}{32.4}
\fgpanel{384.7}{1230.7}{TP53}{0.011}{60.4}{72.6}{39.6}{27.4}
\fgpanel{580.5}{1230.7}{HRR}{0.011}{74.6}{84.8}{25.4}{15.2}
\fgpanel{728.3}{1230.7}{MRR}{0.046}{83}{90}{17}{10}
\fgpanel{876.2}{1230.7}{NHEJ}{0}{80.9}{93}{19.1}{7}
\fgpanel{1024.5}{1230}{CPF}{0.001}{56}{72.4}{44}{27.6}
\fgpanel{1171.9}{1230}{BER}{0.049}{82.6}{89.8}{17.4}{10.2}
\fill[mut] (496.7,1242) rectangle (513.7,1260);
\fill[wild] (496.7,1264) rectangle (513.7,1281);
\node[font=\fs{9.5},anchor=west,inner sep=0pt] at (520,1251) {Mut};
\node[font=\fs{9.5},anchor=west,inner sep=0pt] at (520,1272) {Wild};
% ---------- caption
\begin{scope}[every node/.style={anchor=base west,inner sep=0pt,text=cap,font=\capfont\fs{19.3}}]
\node[font=\capfont\fs{14.5}\bfseries] at (34.7,1451) {FIGURE 2};
\node at (34.7,1475) {Genomic alterations differences between the HAS and LAS group from the TCGA-LUAD cohort. \textbf{(A)} Genomic alterations landscape between the HAS};
\node at (34.7,1499) {(left) and LAS (right) group. \textbf{(B)} Mutation frequency differences of the top 20 mutation genes in the HAS group compared to the LAS group. The};
\node at (34.7,1523) {asterisk to the right of the gene indicates that the mutations in the gene were significantly different in the two groups, as determined by Fisher’s};
\node at (34.7,1547) {exact test. \textbf{(C)} The TMB between HAS and LAS groups. The HAS group had a higher TMB (2.66 (IQR: 0.04, 11.985) compared to the LAS group (1.58};
\node at (34.7,1571) {(IQR: 0.02, 6.9)) with P value = 0.000065 compared by the Wilcoxon test. The frequency of mutated genes in each tumor-related pathway \textbf{(D, F)}};
\node at (34.7,1595) {and DDR pathway \textbf{(E, G)} difference between two groups. The asterisks in \textbf{(D, E)} denote significant differences of mutated genes in different pathways};
\node at (34.7,1619) {identified by Fisher’s exact test which showed in \textbf{(F, G)}.};
\end{scope}
\end{tikzpicture}
\end{document}
